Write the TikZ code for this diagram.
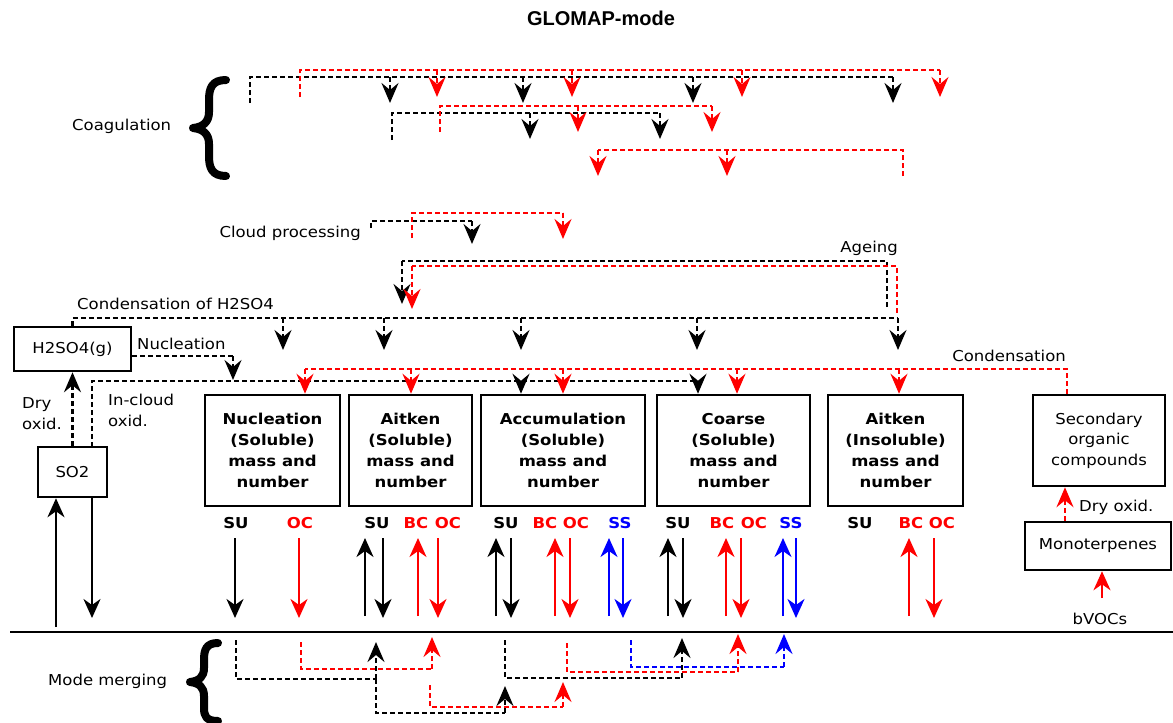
\documentclass[tikz,border=0pt]{standalone}
\usepackage{fontspec}
\setmainfont{DejaVu Sans}[FakeStretch=1.1]
\newfontfamily\titlefont{Liberation Sans}
\usetikzlibrary{arrows.meta}
\definecolor{rd}{RGB}{255,0,0}
\definecolor{bl}{RGB}{0,0,255}
\begin{document}
\begin{tikzpicture}[x=1pt,y=-1pt,
  dsh/.style={dash pattern=on 5pt off 3pt, line width=2.6pt},
  kd/.style={dsh,draw=black},
  rdd/.style={dsh,draw=rd},
  bld/.style={dsh,draw=bl},
  arr/.style={-{Stealth[length=20pt,width=17pt,inset=7pt]}},
  sarr/.style={line width=2.3pt,-{Stealth[length=19pt,width=17pt,inset=6pt]}},
  modebox/.style={draw, line width=2.5pt, align=center, font=\bfseries\fontsize{15}{21}\selectfont, inner sep=0pt},
  plainbox/.style={draw, line width=2.5pt, align=center, font=\fontsize{15}{20.5}\selectfont, inner sep=0pt},
  lbl/.style={font=\fontsize{15}{21}\selectfont, inner sep=0pt},
  sp/.style={font=\bfseries\fontsize{15}{18}\selectfont, inner sep=0pt},
  brc/.style={line width=8pt, line cap=round, line join=round},
]
\useasboundingbox (0,0) rectangle (1173,723);

% title and labels
\node[font=\titlefont\bfseries\fontsize{20}{22}\selectfont] (title) at (601,18) {GLOMAP-mode};
\node[lbl, anchor=west] (coagl) at (72,126) {Coagulation};
\node[lbl, anchor=east] (cloudl) at (361,233) {Cloud processing};
\node[lbl, anchor=east] (ageingl) at (898,248) {Ageing};
\node[lbl, anchor=west] (condl) at (77,304) {Condensation of H2SO4};
\node[lbl, anchor=west] (nucl) at (137,344) {Nucleation};
\node[lbl, anchor=east] (condsl) at (1066,356) {Condensation};
\node[lbl, anchor=west, align=left] (dryl) at (22,414) {Dry\\oxid.};
\node[lbl, anchor=west, align=left] (incl) at (108,410) {In-cloud\\oxid.};
\node[lbl, anchor=west] (dry2) at (1079,507) {Dry oxid.};
\node[lbl] (bvoc) at (1100,619) {bVOCs};
\node[lbl, anchor=west] (mml) at (48,681) {Mode merging};

% braces
\draw[brc] (226,80) .. controls (212,80) and (209,88) .. (209,100) -- (209,112) .. controls (209,122) and (203,127) .. (193,128) .. controls (203,129) and (209,134) .. (209,144) -- (209,156) .. controls (209,168) and (212,176) .. (226,176);
\draw[brc] (218,643) .. controls (206,643) and (204,650) .. (204,660) -- (204,668) .. controls (204,677) and (199,681) .. (190,682) .. controls (199,683) and (204,687) .. (204,696) -- (204,708) .. controls (204,716) and (206,721) .. (218,721);

% boxes
\node[plainbox, minimum width=117, minimum height=44] (h2so4) at (72.5,349) {H2SO4(g)};
\node[plainbox, minimum width=69, minimum height=50] (so2) at (72.5,472) {SO2};
\node[modebox, minimum width=135, minimum height=111] (nuc) at (272.5,450.5) {Nucleation\\(Soluble)\\mass and\\number};
\node[modebox, minimum width=123, minimum height=111] (ait) at (410.5,450.5) {Aitken\\(Soluble)\\mass and\\number};
\node[modebox, minimum width=164, minimum height=111] (acc) at (563,450.5) {Accumulation\\(Soluble)\\mass and\\number};
\node[modebox, minimum width=153, minimum height=111] (coa) at (733.5,450.5) {Coarse\\(Soluble)\\mass and\\number};
\node[modebox, minimum width=135, minimum height=111] (ain) at (895.5,450.5) {Aitken\\(Insoluble)\\mass and\\number};
\node[plainbox, minimum width=132, minimum height=91] (soc) at (1099,440.5) {Secondary\\organic\\compounds};
\node[plainbox, minimum width=146, minimum height=48] (mono) at (1098,546) {Monoterpenes};

% ground line
\coordinate (gl) at (10,632);
\coordinate (gr) at (1173,632);
\draw[line width=2.8pt] (gl) -- (gr);

% ---- coagulation ----
\coordinate (kA0) at (250,103); \coordinate (kA1) at (893,77);
\draw[kd] (kA0) |- (kA1);
\foreach \x [count=\i] in {390,523,693,893}{\coordinate (kAs\i) at (\x,77); \coordinate (kAt\i) at (\x,103); \draw[kd,arr] (kAs\i) -- (kAt\i);}
\coordinate (rA0) at (300,97); \coordinate (rA1) at (940,70);
\draw[rdd] (rA0) |- (rA1);
\foreach \x [count=\i] in {437,572,742,940}{\coordinate (rAs\i) at (\x,70); \coordinate (rAt\i) at (\x,97); \draw[rdd,arr] (rAs\i) -- (rAt\i);}
\coordinate (kB0) at (392,140); \coordinate (kB1) at (660,113);
\draw[kd] (kB0) |- (kB1);
\foreach \x [count=\i] in {530,660}{\coordinate (kBs\i) at (\x,113); \coordinate (kBt\i) at (\x,139); \draw[kd,arr] (kBs\i) -- (kBt\i);}
\coordinate (rB0) at (440,132); \coordinate (rB1) at (712,106);
\draw[rdd] (rB0) |- (rB1);
\foreach \x [count=\i] in {578,712}{\coordinate (rBs\i) at (\x,106); \coordinate (rBt\i) at (\x,132); \draw[rdd,arr] (rBs\i) -- (rBt\i);}
\coordinate (rC0) at (903,176); \coordinate (rC1) at (598,150);
\draw[rdd] (rC0) |- (rC1);
\foreach \x [count=\i] in {598,727}{\coordinate (rCs\i) at (\x,150); \coordinate (rCt\i) at (\x,176); \draw[rdd,arr] (rCs\i) -- (rCt\i);}

% ---- cloud processing ----
\coordinate (kc0) at (371,228); \coordinate (kc1) at (472,221); \coordinate (kct) at (472,244);
\draw[kd] (kc0) |- (kc1);
\draw[kd,arr] (kc1) -- (kct);
\coordinate (rc0) at (412,238); \coordinate (rc1) at (563,213); \coordinate (rct) at (563,239);
\draw[rdd] (rc0) |- (rc1);
\draw[rdd,arr] (rc1) -- (rct);

% ---- ageing ----
\coordinate (ka0) at (887,307); \coordinate (ka1) at (402,261); \coordinate (kat) at (402,304);
\draw[kd] (ka0) |- (ka1);
\draw[kd,arr] (ka1) -- (kat);
\coordinate (ra0) at (897,313); \coordinate (ra1) at (412,266); \coordinate (rat) at (412,309);
\draw[rdd] (ra0) |- (ra1);
\draw[rdd,arr] (ra1) -- (rat);

% ---- condensation of H2SO4 ----
\coordinate (ch1) at (898,318);
\draw[kd] (h2so4.north) |- (ch1);
\foreach \x [count=\i] in {283,384,521,697,898}{\coordinate (chs\i) at (\x,318); \coordinate (cht\i) at (\x,350); \draw[kd,arr] (chs\i) -- (cht\i);}

% ---- nucleation ----
\coordinate (nu1) at (233,356); \coordinate (nut) at (233,380);
\draw[kd] (h2so4.east |- nu1) -- (nu1);
\draw[kd,arr] (nu1) -- (nut);

% ---- in-cloud oxidation ----
\coordinate (ic0) at (92,447); \coordinate (ic1) at (698,381); \coordinate (ic2) at (521,381);
\draw[kd] (ic0) |- (ic1);
\draw[kd,arr] (ic2) -- (ic2 |- acc.north);
\draw[kd,arr] (ic1) -- (ic1 |- coa.north);

% ---- dry oxidation of SO2 ----
\draw[kd,arr] (so2.north) -- (h2so4.south);

% ---- condensation of SOC ----
\coordinate (cs0) at (1067,369);
\coordinate (cs1) at (305,369);
\draw[rdd] (soc.north -| cs0) |- (cs1);
\foreach \x/\b [count=\i] in {305/nuc,411/ait,563/acc,737/coa,899/ain}{\coordinate (css\i) at (\x,369); \draw[rdd,arr] (css\i) -- (css\i |- \b.north);}

% ---- monoterpenes ----
\coordinate (mo) at (1065,0);
\draw[rdd,arr] (mono.north -| mo) -- (soc.south -| mo);
\coordinate (bv) at (1102,598);
\draw[sarr,draw=rd] (bv) -- (bv |- mono.south);

% ---- SO2 emission / deposition ----
\coordinate (se) at (56,627);
\draw[sarr] (se) -- (se |- so2.south);
\coordinate (sd) at (92,618);
\draw[sarr] (sd |- so2.south) -- (sd);

% ---- species arrows ----
\foreach \x/\c [count=\i] in {365/black,418/rd,496/black,555/rd,609/bl,668/black,726/rd,783/bl,909/rd}{
  \coordinate (ua\i) at (\x,616); \coordinate (ub\i) at (\x,538);
  \draw[sarr,draw=\c] (ua\i) -- (ub\i);}
\foreach \x/\c [count=\i] in {235/black,299/rd,383/black,438/rd,511/black,570/rd,623/bl,683/black,741/rd,796/bl,934/rd}{
  \coordinate (da\i) at (\x,538); \coordinate (db\i) at (\x,618);
  \draw[sarr,draw=\c] (da\i) -- (db\i);}

% ---- species labels ----
\foreach \x/\t/\c [count=\i] in {236/SU/black,300/OC/rd,377/SU/black,416/BC/rd,448/OC/rd,506/SU/black,545/BC/rd,576/OC/rd,620/SS/bl,678/SU/black,722/BC/rd,754/OC/rd,791/SS/bl,860/SU/black,911/BC/rd,942/OC/rd}{
  \node[sp,text=\c] (sp\i) at (\x,523) {\t};}

% ---- mode merging ----
\coordinate (mkA0) at (236,640); \coordinate (mkA1) at (376,679); \coordinate (mkAt) at (376,642);
\draw[kd] (mkA0) |- (mkA1);
\draw[kd,arr] (mkA1) -- (mkAt);
\coordinate (mrA0) at (301,642); \coordinate (mrA1) at (432,669); \coordinate (mrAt) at (432,637);
\draw[rdd] (mrA0) |- (mrA1);
\draw[rdd,arr] (mrA1) -- (mrAt);
\coordinate (mkB1) at (505,713); \coordinate (mkBt) at (505,686);
\draw[kd] (mkA1) |- (mkB1);
\draw[kd,arr] (mkB1) -- (mkBt);
\coordinate (mrB0) at (430,685); \coordinate (mrB1) at (563,707); \coordinate (mrBt) at (563,682);
\draw[rdd] (mrB0) |- (mrB1);
\draw[rdd,arr] (mrB1) -- (mrBt);
\coordinate (mkC0) at (505,640); \coordinate (mkC1) at (682,678); \coordinate (mkCt) at (682,638);
\draw[kd] (mkC0) |- (mkC1);
\draw[kd,arr] (mkC1) -- (mkCt);
\coordinate (mrC0) at (567,643); \coordinate (mrC1) at (738,672); \coordinate (mrCt) at (738,634);
\draw[rdd] (mrC0) |- (mrC1);
\draw[rdd,arr] (mrC1) -- (mrCt);
\coordinate (mbC0) at (631,640); \coordinate (mbC1) at (784,667); \coordinate (mbCt) at (784,634);
\draw[bld] (mbC0) |- (mbC1);
\draw[bld,arr] (mbC1) -- (mbCt);
\end{tikzpicture}
\end{document}
